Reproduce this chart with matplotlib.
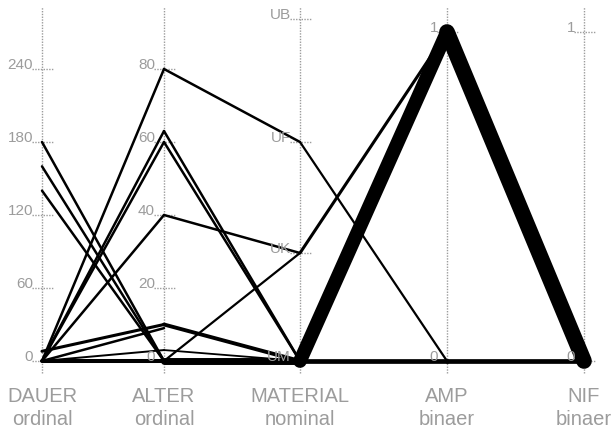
import matplotlib
matplotlib.use("Agg")
import matplotlib.pyplot as plt

# ---------------- data ----------------
axis_names = ["DAUER", "ALTER", "MATERIAL", "AMP", "NIF"]
axis_types = ["ordinal", "ordinal", "nominal", "binaer", "binaer"]

dauer_ticks = [0, 60, 120, 180, 240]
alter_ticks = [0, 20, 40, 60, 80]
material_cats = ["UM", "UK", "UF", "UB"]
amp_ticks = [0, 1]
nif_ticks = [0, 1]

# aggregated segments between neighbouring axes: (left value, right value, weight)
dauer_alter = [(0, 0, 2.9), (0, 80, 1.8), (0, 63, 1.8), (0, 60, 1.8), (0, 40, 1.8),
               (8, 10, 2.2), (0, 9, 1.8), (0, 3, 1.4), (180, 0, 1.8), (160, 0, 1.8),
               (140, 0, 1.8)]
alter_material = [(0, "UM", 5.0), (80, "UF", 1.8), (63, "UM", 1.8), (60, "UM", 1.8),
                  (40, "UK", 1.8), (0, "UK", 1.6), (10, "UM", 2.8), (3, "UM", 1.3)]
material_amp = [("UM", 1, 9.9), ("UK", 1, 2.2), ("UF", 0, 1.6), ("UM", 0, 3.4)]
amp_nif = [(1, 0, 11.3), (0, 0, 3.4)]

# ---------------- layout ----------------
W, H = 615, 430
axis_x = [42, 164, 300, 447, 584]
base_px = 361           # pixel row of the zero level
grey = "#9c9c9c"
font = ["Liberation Sans", "DejaVu Sans"]

material_pos = {"UM": 0, "UK": 108, "UF": 219, "UB": 342}
scales = [
    lambda v: v * 292 / 240,
    lambda v: v * 292 / 80,
    lambda v: material_pos[v],
    lambda v: v * 329,
    lambda v: v * 329,
]

fig = plt.figure(figsize=(W / 100, H / 100), dpi=100)
ax = fig.add_axes([0, 0, 1, 1])
ax.set_xlim(0, W)
ax.set_ylim(base_px - H, base_px)
ax.axis("off")

# axes lines, ticks, labels
tick_sets = [dauer_ticks, alter_ticks, material_cats, amp_ticks, nif_ticks]
for i, (x, ticks) in enumerate(zip(axis_x, tick_sets)):
    ax.plot([x, x], [-12, 354], color=grey, lw=1.0, ls=(0, (1, 1)), zorder=1)
    for t in ticks:
        y = scales[i](t)
        ax.plot([x - 10, x + 12], [y, y], color=grey, lw=1.0, ls=(0, (1, 1)), zorder=1)
        ax.text(x - 9, y, str(t), ha="right", va="baseline", color=grey,
                fontsize=11, family=font, zorder=6)
    ax.text(x, -41, axis_names[i], ha="center", va="baseline", color=grey,
            fontsize=14.5, family=font)
    ax.text(x, -64, axis_types[i], ha="center", va="baseline", color=grey,
            fontsize=14.5, family=font)

# data segments
pairs = [dauer_alter, alter_material, material_amp, amp_nif]
for k, segs in enumerate(pairs):
    x0, x1 = axis_x[k], axis_x[k + 1]
    for a, b, w in segs:
        ax.plot([x0, x1], [scales[k](a), scales[k + 1](b)], color="black", lw=w,
                solid_capstyle="round", solid_joinstyle="round", zorder=3)

fig.savefig("out.png", dpi=100, facecolor="white")
